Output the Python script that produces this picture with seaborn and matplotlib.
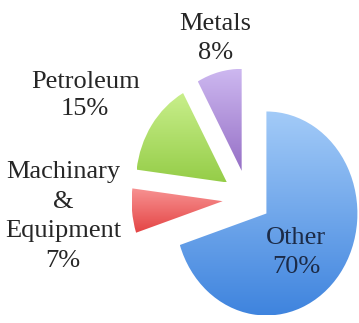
import numpy as np
import matplotlib
matplotlib.use("Agg")
import matplotlib.pyplot as plt
import seaborn as sns

# Shares of exports by sector (percent)
sectors = ["Other", "Machinary\n&\nEquipment", "Petroleum", "Metals"]
shares = [70, 7, 15, 8]

# Gradient colours per wedge (top, bottom)
top_colors = ["#a3cbf8", "#f79292", "#c9ef8c", "#cdb8f0"]
bottom_colors = ["#3f84de", "#e44444", "#95cd48", "#9670c6"]
text_colors = ["#1c2b47", "#262626", "#262626", "#262626"]

# Layout
explode = [0.25, 0.28, 0.28, 0.28]
label_xy = [(0.53, -0.53), (-2.03, -0.175), (-1.79, 1.01), (-0.36, 1.57)]
label_spacing = [1.38, 1.44, 1.3, 1.42]

sns.set_theme(style="white")
plt.rcParams["font.family"] = ["Liberation Serif", "DejaVu Serif"]

fig = plt.figure(figsize=(3.59, 3.23), dpi=100)
ax = fig.add_axes([0, 0, 1, 1])

wedges, _ = ax.pie(
    shares,
    explode=explode,
    startangle=90,
    counterclock=False,
    radius=1.0,
)

for w, c_top, c_bot in zip(wedges, top_colors, bottom_colors):
    w.set_facecolor("none")
    w.set_edgecolor("none")
    ext = w.get_path().get_extents()
    cmap = sns.blend_palette([c_bot, c_top], as_cmap=True)
    grad = np.linspace(0, 1, 256).reshape(-1, 1)
    im = ax.imshow(
        grad,
        cmap=cmap,
        origin="lower",
        extent=[ext.x0, ext.x1, ext.y0, ext.y1],
        aspect="auto",
        interpolation="bilinear",
        zorder=1,
    )
    im.set_clip_path(w)

for name, share, (x, y), col, ls in zip(sectors, shares, label_xy,
                                         text_colors, label_spacing):
    ax.text(x, y, f"{name}\n{share}%", ha="center", va="center",
            fontsize=19, color=col, linespacing=ls, zorder=3)

ax.set_aspect("auto")
ax.set_xlim(-248 / 91, 111 / 91)
ax.set_ylim(-(323 - 198.5) / 102, 198.5 / 102)
ax.axis("off")

fig.savefig("out.png", dpi=100, facecolor="white")
